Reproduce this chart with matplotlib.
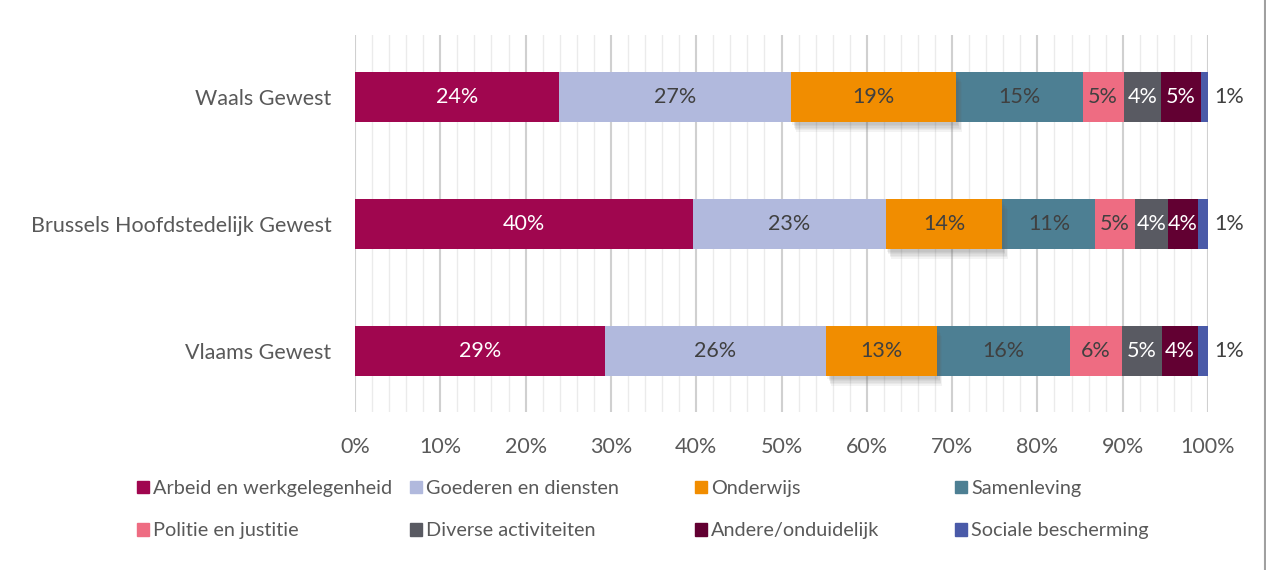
import matplotlib.pyplot as plt
import matplotlib.patheffects as pe
from matplotlib.patches import Patch
from matplotlib.lines import Line2D
from matplotlib.ticker import MultipleLocator, PercentFormatter

plt.rcParams['font.family'] = ['Lato', 'DejaVu Sans']

# Data (share in %)
regions = ['Vlaams Gewest', 'Brussels Hoofdstedelijk Gewest', 'Waals Gewest']
categories = ['Arbeid en werkgelegenheid', 'Goederen en diensten', 'Onderwijs', 'Samenleving',
              'Politie en justitie', 'Diverse activiteiten', 'Andere/onduidelijk', 'Sociale bescherming']
arbeid = [29.3, 39.6, 23.9]
goederen = [25.9, 22.6, 27.2]
onderwijs = [13.0, 13.7, 19.4]
samenleving = [15.6, 10.9, 14.8]
politie = [6.1, 4.6, 4.8]
diverse = [4.7, 3.9, 4.4]
andere = [4.2, 3.5, 4.7]
sociale = [1.2, 1.2, 0.8]
series = [arbeid, goederen, onderwijs, samenleving, politie, diverse, andere, sociale]

colors = ['#A0064F', '#B1B9DD', '#F18D00', '#4D7F93', '#EE6C82', '#595A62', '#620032', '#4A5AA8']
label_colors = ['white', '#404040', '#404040', '#404040', '#404040', 'white', 'white', '#404040']

FS = 15.5

fig = plt.figure(figsize=(12.66, 5.70), dpi=100)
ax = fig.add_axes([355 / 1266, 1 - 412 / 570, (1208 - 355) / 1266, (412 - 35) / 570])

# soft shadow for the Onderwijs segments
shadow = [pe.SimplePatchShadow(offset=(dx, -dy), shadow_rgbFace='#606060', alpha=0.07)
          for dx, dy in [(1, 2), (2, 3), (2, 4), (3, 5), (3, 6), (4, 7)]]

left = [0, 0, 0]
for i, vals in enumerate(series):
    bars = ax.barh(range(len(regions)), vals, left=left, height=0.39, color=colors[i],
                   label=categories[i], zorder=3)
    if categories[i] == 'Onderwijs':
        for b in bars:
            b.set_path_effects(shadow + [pe.Normal()])
            b.set_zorder(4)
    for j, v in enumerate(vals):
        if i == len(series) - 1:
            ax.text(left[j] + v + 0.7, j, f'{v:.0f}%', va='center', ha='left',
                    fontsize=FS, color='#404040', zorder=5)
        else:
            ax.text(left[j] + v / 2, j, f'{v:.0f}%', va='center', ha='center',
                    fontsize=FS, color=label_colors[i], zorder=5)
        left[j] += v

ax.set_xlim(0, 100)
ax.set_ylim(-0.48, 2.49)
ax.xaxis.set_major_locator(MultipleLocator(10))
ax.xaxis.set_minor_locator(MultipleLocator(2))
ax.xaxis.set_major_formatter(PercentFormatter(decimals=0))
ax.grid(axis='x', which='major', color='#D0D0D0', linewidth=1.5, zorder=0)
ax.grid(axis='x', which='minor', color='#EBEBEB', linewidth=1.0, zorder=0)
ax.set_yticks(range(len(regions)))
ax.set_yticklabels(regions)
ax.tick_params(axis='both', which='both', length=0, labelsize=FS, labelcolor='#595959')
ax.tick_params(axis='y', pad=17)
ax.tick_params(axis='x', pad=18)
for s in ax.spines.values():
    s.set_visible(False)

# legend in 4 columns, 2 rows
col_x = [137, 410, 695, 955]
for c in range(4):
    handles = [Patch(color=colors[c]), Patch(color=colors[c + 4])]
    labels = [categories[c], categories[c + 4]]
    fig.legend(handles, labels, loc='upper left', bbox_to_anchor=(col_x[c] / 1266, 1 - 480 / 570),
               frameon=False, fontsize=14.3, handlelength=0.6, handleheight=0.6,
               handletextpad=0.22, labelspacing=1.27, borderaxespad=0, borderpad=0,
               labelcolor='#595959')

fig.add_artist(Line2D([1264.5 / 1266] * 2, [0, 1], transform=fig.transFigure,
                      color='#A0A0A0', linewidth=1.5))

plt.savefig('out.png', dpi=100)
